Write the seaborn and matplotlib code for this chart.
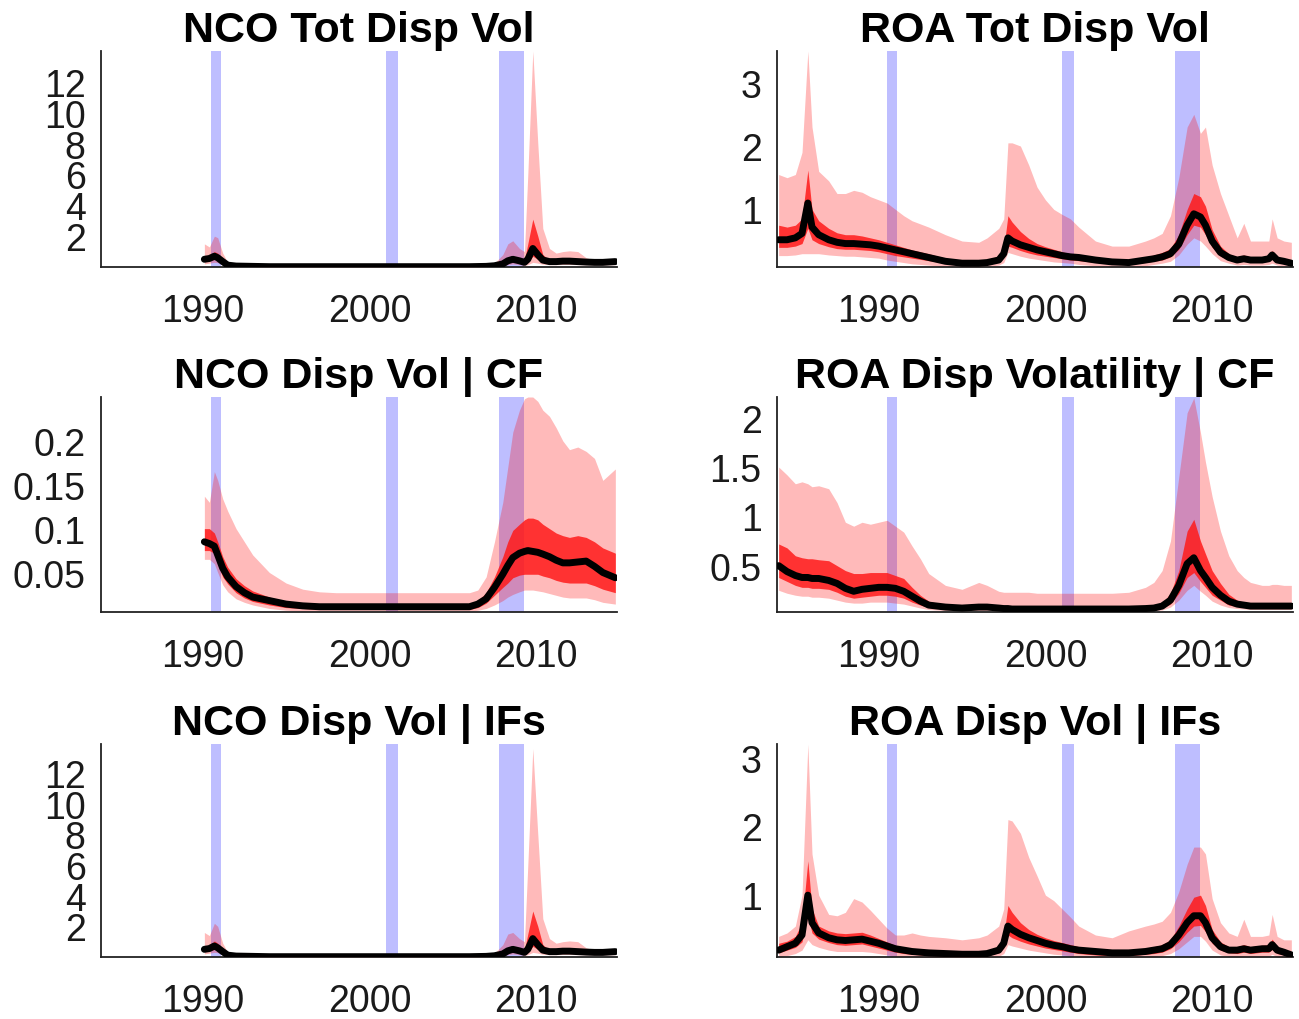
import numpy as np
import pandas as pd
import matplotlib
matplotlib.use("Agg")
import matplotlib.pyplot as plt
import seaborn as sns

# ---------------- data ----------------
TITLES = ["NCO Tot Disp Vol", "ROA Tot Disp Vol",
          "NCO Disp Vol | CF", "ROA Disp Volatility | CF",
          "NCO Disp Vol | IFs", "ROA Disp Vol | IFs"]

X_TICKS = [1990, 2000, 2010]
X_TICK_LABELS = ["1990", "2000", "2010"]

RECESSIONS = [(1990.5, 1991.1), (2001.0, 2001.7), (2007.8, 2009.25)]

NCO_YEARS = [1990.1, 1990.4, 1990.7, 1990.9, 1991.2, 1991.5, 1992.0, 1992.5, 1993.0, 1994.0,
             1995.0, 1996.0, 1997.0, 1998.0, 1999.0, 2000.0, 2001.0, 2002.0, 2003.0, 2004.0,
             2005.0, 2006.0, 2006.5, 2007.0, 2007.5, 2008.0, 2008.3, 2008.6, 2009.0, 2009.3,
             2009.5, 2009.8, 2010.1, 2010.4, 2010.8, 2011.2, 2011.6, 2012.0, 2012.5, 2013.0,
             2013.5, 2014.0, 2014.75]

ROA_YEARS = [1984.0, 1984.5, 1985.0, 1985.4, 1985.75, 1986.0, 1986.4, 1987.0, 1987.5, 1988.0,
             1988.5, 1989.0, 1989.5, 1990.0, 1990.5, 1991.0, 1991.5, 1992.0, 1992.5, 1993.0,
             1994.0, 1995.0, 1996.0, 1996.5, 1997.2, 1997.5, 1997.75, 1998.0, 1998.5, 1999.0,
             1999.5, 2000.0, 2000.5, 2001.0, 2001.5, 2002.0, 2003.0, 2004.0, 2005.0, 2006.0,
             2006.5, 2007.0, 2007.5, 2008.0, 2008.5, 2008.9, 2009.3, 2009.6, 2010.0, 2010.5,
             2011.0, 2011.5, 2011.9, 2012.3, 2013.0, 2013.4, 2013.6, 2013.9, 2014.3, 2014.75]

# Panel 1: NCO Tot Disp Vol
NCO_TOT_MED = [0.5, 0.55, 0.7, 0.6, 0.35, 0.12, 0.06, 0.05, 0.04, 0.02,
               0.02, 0.02, 0.02, 0.02, 0.02, 0.02, 0.02, 0.02, 0.02, 0.02,
               0.02, 0.02, 0.03, 0.04, 0.08, 0.2, 0.4, 0.5, 0.4, 0.3,
               0.5, 1.2, 0.8, 0.45, 0.35, 0.35, 0.38, 0.38, 0.35, 0.32,
               0.3, 0.3, 0.35]
NCO_TOT_IN_LO = [0.35, 0.4, 0.5, 0.45, 0.25, 0.08, 0.04, 0.035, 0.03, 0.012,
                 0.012, 0.012, 0.012, 0.012, 0.012, 0.012, 0.012, 0.012, 0.012, 0.012,
                 0.012, 0.012, 0.02, 0.03, 0.06, 0.14, 0.28, 0.35, 0.28, 0.2,
                 0.3, 0.7, 0.5, 0.32, 0.25, 0.25, 0.28, 0.28, 0.26, 0.24,
                 0.22, 0.22, 0.26]
NCO_TOT_IN_HI = [0.7, 0.7, 1.0, 0.9, 0.5, 0.18, 0.09, 0.07, 0.06, 0.03,
                 0.03, 0.03, 0.03, 0.03, 0.03, 0.03, 0.03, 0.03, 0.03, 0.03,
                 0.03, 0.03, 0.04, 0.06, 0.12, 0.3, 0.6, 0.7, 0.55, 0.45,
                 1.5, 3.1, 2.0, 0.8, 0.45, 0.45, 0.48, 0.48, 0.45, 0.4,
                 0.38, 0.38, 0.42]
NCO_TOT_OUT_LO = [0.2, 0.25, 0.3, 0.28, 0.15, 0.05, 0.02, 0.02, 0.015, 0.005,
                  0.005, 0.005, 0.005, 0.005, 0.005, 0.005, 0.005, 0.005, 0.005, 0.005,
                  0.005, 0.005, 0.01, 0.015, 0.03, 0.07, 0.15, 0.2, 0.15, 0.1,
                  0.15, 0.3, 0.25, 0.18, 0.15, 0.15, 0.16, 0.16, 0.15, 0.14,
                  0.13, 0.13, 0.15]
NCO_TOT_OUT_HI = [1.5, 1.3, 2.0, 1.9, 0.9, 0.3, 0.15, 0.1, 0.08, 0.06,
                  0.06, 0.06, 0.06, 0.06, 0.06, 0.06, 0.06, 0.06, 0.06, 0.06,
                  0.06, 0.06, 0.08, 0.1, 0.25, 0.8, 1.5, 1.7, 1.2, 1.0,
                  6.0, 14.0, 8.0, 2.5, 1.2, 0.9, 1.0, 1.05, 1.0, 0.6,
                  0.45, 0.4, 0.42]

# Panel 3: NCO Disp Vol | CF
NCO_CF_MED = [0.085, 0.083, 0.08, 0.07, 0.055, 0.045, 0.034, 0.027, 0.022, 0.018,
              0.014, 0.012, 0.011, 0.011, 0.011, 0.011, 0.011, 0.011, 0.011, 0.011,
              0.011, 0.011, 0.014, 0.02, 0.033, 0.048, 0.058, 0.067, 0.072, 0.074,
              0.075, 0.074, 0.073, 0.071, 0.068, 0.064, 0.061, 0.061, 0.062, 0.063,
              0.057, 0.05, 0.044]
NCO_CF_IN_LO = [0.075, 0.075, 0.072, 0.06, 0.045, 0.037, 0.027, 0.021, 0.017, 0.013,
                0.01, 0.009, 0.008, 0.008, 0.008, 0.008, 0.008, 0.008, 0.008, 0.008,
                0.008, 0.008, 0.01, 0.015, 0.024, 0.033, 0.038, 0.044, 0.047, 0.048,
                0.048, 0.048, 0.048, 0.046, 0.044, 0.041, 0.039, 0.038, 0.038, 0.038,
                0.035, 0.031, 0.027]
NCO_CF_IN_HI = [0.1, 0.1, 0.095, 0.085, 0.068, 0.056, 0.043, 0.035, 0.029, 0.022,
                0.017, 0.015, 0.014, 0.014, 0.014, 0.014, 0.014, 0.014, 0.014, 0.014,
                0.014, 0.014, 0.018, 0.027, 0.045, 0.068, 0.085, 0.098, 0.105, 0.11,
                0.112, 0.112, 0.11, 0.105, 0.1, 0.095, 0.092, 0.09, 0.092, 0.09,
                0.085, 0.078, 0.072]
NCO_CF_OUT_LO = [0.065, 0.065, 0.06, 0.05, 0.036, 0.028, 0.02, 0.016, 0.013, 0.009,
                 0.007, 0.006, 0.006, 0.006, 0.006, 0.006, 0.006, 0.006, 0.006, 0.006,
                 0.006, 0.006, 0.007, 0.009, 0.013, 0.018, 0.022, 0.025, 0.028, 0.03,
                 0.03, 0.03, 0.029, 0.028, 0.026, 0.024, 0.022, 0.021, 0.021, 0.021,
                 0.019, 0.016, 0.014]
NCO_CF_OUT_HI = [0.137, 0.13, 0.165, 0.155, 0.134, 0.12, 0.1, 0.085, 0.07, 0.05,
                 0.038, 0.031, 0.028, 0.027, 0.027, 0.027, 0.027, 0.027, 0.027, 0.027,
                 0.027, 0.027, 0.03, 0.045, 0.085, 0.13, 0.17, 0.21, 0.235, 0.248,
                 0.25, 0.25, 0.245, 0.235, 0.228, 0.215, 0.2, 0.19, 0.193, 0.188,
                 0.18, 0.155, 0.168]

# Panel 5: NCO Disp Vol | IFs
NCO_IF_MED = [0.5, 0.55, 0.72, 0.6, 0.35, 0.12, 0.06, 0.05, 0.04, 0.02,
              0.02, 0.02, 0.02, 0.02, 0.02, 0.02, 0.02, 0.02, 0.02, 0.02,
              0.02, 0.02, 0.03, 0.04, 0.08, 0.2, 0.4, 0.5, 0.4, 0.3,
              0.5, 1.2, 0.8, 0.45, 0.35, 0.35, 0.38, 0.38, 0.35, 0.32,
              0.3, 0.3, 0.35]
NCO_IF_IN_LO = [0.35, 0.4, 0.5, 0.45, 0.25, 0.08, 0.04, 0.035, 0.03, 0.012,
                0.012, 0.012, 0.012, 0.012, 0.012, 0.012, 0.012, 0.012, 0.012, 0.012,
                0.012, 0.012, 0.02, 0.03, 0.06, 0.14, 0.28, 0.35, 0.28, 0.2,
                0.3, 0.7, 0.5, 0.32, 0.25, 0.25, 0.28, 0.28, 0.26, 0.24,
                0.22, 0.22, 0.26]
NCO_IF_IN_HI = [0.7, 0.75, 1.05, 0.9, 0.5, 0.18, 0.09, 0.07, 0.06, 0.03,
                0.03, 0.03, 0.03, 0.03, 0.03, 0.03, 0.03, 0.03, 0.03, 0.03,
                0.03, 0.03, 0.04, 0.06, 0.12, 0.3, 0.6, 0.7, 0.55, 0.45,
                1.5, 3.0, 2.0, 0.8, 0.45, 0.45, 0.48, 0.48, 0.45, 0.4,
                0.38, 0.38, 0.42]
NCO_IF_OUT_LO = [0.2, 0.25, 0.3, 0.28, 0.15, 0.05, 0.02, 0.02, 0.015, 0.005,
                 0.005, 0.005, 0.005, 0.005, 0.005, 0.005, 0.005, 0.005, 0.005, 0.005,
                 0.005, 0.005, 0.01, 0.015, 0.03, 0.07, 0.15, 0.2, 0.15, 0.1,
                 0.15, 0.3, 0.25, 0.18, 0.15, 0.15, 0.16, 0.16, 0.15, 0.14,
                 0.13, 0.13, 0.15]
NCO_IF_OUT_HI = [1.6, 1.4, 2.2, 2.0, 0.9, 0.3, 0.15, 0.1, 0.08, 0.06,
                 0.06, 0.06, 0.06, 0.06, 0.06, 0.06, 0.06, 0.06, 0.06, 0.06,
                 0.06, 0.06, 0.08, 0.1, 0.25, 0.8, 1.5, 1.6, 1.2, 1.0,
                 6.0, 13.6, 8.0, 2.5, 1.2, 0.9, 1.0, 1.05, 1.0, 0.6,
                 0.45, 0.4, 0.42]

# Panel 2: ROA Tot Disp Vol
ROA_TOT_MED = [0.52, 0.52, 0.55, 0.62, 1.1, 0.72, 0.6, 0.52, 0.48, 0.46,
               0.46, 0.45, 0.44, 0.42, 0.39, 0.36, 0.33, 0.3, 0.27, 0.24,
               0.18, 0.15, 0.15, 0.16, 0.2, 0.3, 0.55, 0.5, 0.44, 0.4,
               0.36, 0.33, 0.3, 0.27, 0.25, 0.24, 0.2, 0.17, 0.16, 0.2,
               0.22, 0.25, 0.3, 0.45, 0.75, 0.93, 0.88, 0.75, 0.5, 0.32,
               0.24, 0.2, 0.22, 0.2, 0.2, 0.22, 0.28, 0.2, 0.18, 0.15]
ROA_TOT_IN_LO = [0.4, 0.4, 0.42, 0.46, 0.7, 0.52, 0.46, 0.41, 0.38, 0.37,
                 0.37, 0.36, 0.35, 0.33, 0.3, 0.27, 0.25, 0.23, 0.21, 0.19,
                 0.15, 0.12, 0.12, 0.13, 0.17, 0.24, 0.42, 0.4, 0.35, 0.31,
                 0.28, 0.26, 0.24, 0.22, 0.2, 0.19, 0.16, 0.14, 0.13, 0.16,
                 0.18, 0.2, 0.25, 0.37, 0.6, 0.75, 0.72, 0.6, 0.4, 0.26,
                 0.2, 0.17, 0.18, 0.17, 0.17, 0.18, 0.23, 0.17, 0.15, 0.13]
ROA_TOT_IN_HI = [0.75, 0.72, 0.75, 0.85, 1.62, 1.0, 0.82, 0.7, 0.63, 0.6,
                 0.6, 0.58, 0.55, 0.52, 0.48, 0.44, 0.4, 0.36, 0.33, 0.3,
                 0.23, 0.19, 0.19, 0.21, 0.26, 0.38, 0.9, 0.8, 0.65, 0.54,
                 0.46, 0.41, 0.37, 0.33, 0.3, 0.29, 0.24, 0.21, 0.2, 0.25,
                 0.28, 0.32, 0.38, 0.6, 1.0, 1.25, 1.2, 1.05, 0.68, 0.42,
                 0.3, 0.25, 0.28, 0.25, 0.25, 0.27, 0.35, 0.25, 0.22, 0.19]
ROA_TOT_OUT_LO = [0.27, 0.27, 0.28, 0.3, 0.3, 0.3, 0.3, 0.28, 0.27, 0.26,
                  0.26, 0.25, 0.24, 0.23, 0.2, 0.18, 0.16, 0.14, 0.13, 0.12,
                  0.1, 0.09, 0.09, 0.1, 0.12, 0.16, 0.32, 0.3, 0.26, 0.23,
                  0.21, 0.19, 0.17, 0.16, 0.15, 0.13, 0.11, 0.09, 0.09, 0.11,
                  0.13, 0.15, 0.18, 0.28, 0.45, 0.55, 0.5, 0.42, 0.3, 0.19,
                  0.15, 0.12, 0.13, 0.12, 0.12, 0.13, 0.15, 0.12, 0.11, 0.1]
ROA_TOT_OUT_HI = [1.55, 1.5, 1.55, 1.9, 3.5, 2.3, 1.6, 1.45, 1.25, 1.25,
                  1.3, 1.27, 1.2, 1.15, 1.1, 1.0, 0.9, 0.82, 0.77, 0.72,
                  0.6, 0.5, 0.48, 0.55, 0.7, 0.85, 2.05, 2.05, 2.0, 1.7,
                  1.35, 1.15, 1.0, 0.92, 0.85, 0.72, 0.5, 0.42, 0.42, 0.5,
                  0.55, 0.62, 0.9, 1.5, 2.3, 2.5, 2.2, 2.3, 1.7, 1.25,
                  0.9, 0.55, 0.78, 0.5, 0.5, 0.5, 0.85, 0.55, 0.5, 0.48]

# Panel 4: ROA Disp Volatility | CF
ROA_CF_MED = [0.5, 0.44, 0.4, 0.38, 0.38, 0.37, 0.37, 0.35, 0.32, 0.27,
              0.24, 0.26, 0.27, 0.28, 0.28, 0.27, 0.24, 0.19, 0.14, 0.1,
              0.08, 0.07, 0.08, 0.08, 0.07, 0.065, 0.065, 0.06, 0.06, 0.06,
              0.06, 0.06, 0.06, 0.06, 0.06, 0.06, 0.06, 0.06, 0.06, 0.065,
              0.07, 0.09, 0.15, 0.3, 0.52, 0.58, 0.45, 0.38, 0.28, 0.2,
              0.14, 0.11, 0.1, 0.09, 0.09, 0.09, 0.09, 0.09, 0.09, 0.09]
ROA_CF_IN_LO = [0.38, 0.34, 0.3, 0.28, 0.28, 0.27, 0.27, 0.26, 0.23, 0.19,
                0.17, 0.18, 0.19, 0.2, 0.2, 0.19, 0.17, 0.13, 0.1, 0.075,
                0.06, 0.055, 0.06, 0.06, 0.055, 0.05, 0.05, 0.05, 0.05, 0.05,
                0.05, 0.05, 0.05, 0.05, 0.05, 0.05, 0.05, 0.05, 0.05, 0.05,
                0.055, 0.07, 0.11, 0.22, 0.38, 0.43, 0.34, 0.28, 0.2, 0.15,
                0.1, 0.085, 0.08, 0.07, 0.07, 0.07, 0.07, 0.07, 0.07, 0.07]
ROA_CF_IN_HI = [0.72, 0.68, 0.6, 0.58, 0.57, 0.57, 0.56, 0.55, 0.5, 0.45,
                0.42, 0.42, 0.43, 0.43, 0.43, 0.4, 0.37, 0.28, 0.2, 0.14,
                0.1, 0.09, 0.1, 0.1, 0.09, 0.08, 0.08, 0.08, 0.08, 0.08,
                0.08, 0.08, 0.08, 0.08, 0.08, 0.08, 0.08, 0.08, 0.08, 0.085,
                0.09, 0.12, 0.22, 0.45, 0.85, 0.97, 0.75, 0.62, 0.45, 0.32,
                0.21, 0.15, 0.13, 0.12, 0.11, 0.11, 0.11, 0.11, 0.11, 0.11]
ROA_CF_OUT_LO = [0.25, 0.22, 0.2, 0.19, 0.19, 0.18, 0.18, 0.17, 0.15, 0.13,
                 0.12, 0.12, 0.13, 0.13, 0.13, 0.12, 0.11, 0.09, 0.07, 0.055,
                 0.045, 0.04, 0.045, 0.045, 0.04, 0.04, 0.04, 0.04, 0.04, 0.04,
                 0.04, 0.04, 0.04, 0.04, 0.04, 0.04, 0.04, 0.04, 0.04, 0.04,
                 0.045, 0.05, 0.08, 0.15, 0.25, 0.3, 0.24, 0.2, 0.14, 0.1,
                 0.075, 0.065, 0.06, 0.055, 0.055, 0.055, 0.055, 0.055, 0.055, 0.055]
ROA_CF_OUT_HI = [1.5, 1.42, 1.33, 1.35, 1.33, 1.3, 1.31, 1.28, 1.14, 0.94,
                 0.9, 0.94, 0.92, 0.94, 0.96, 0.9, 0.84, 0.7, 0.57, 0.42,
                 0.3, 0.26, 0.33, 0.3, 0.24, 0.23, 0.23, 0.23, 0.23, 0.23,
                 0.22, 0.22, 0.22, 0.22, 0.22, 0.22, 0.22, 0.22, 0.23, 0.28,
                 0.33, 0.45, 0.75, 1.4, 2.05, 2.2, 1.85, 1.55, 1.2, 0.85,
                 0.6, 0.45, 0.38, 0.33, 0.3, 0.3, 0.31, 0.31, 0.3, 0.3]

# Panel 6: ROA Disp Vol | IFs
ROA_IF_MED = [0.2, 0.25, 0.3, 0.42, 1.0, 0.6, 0.45, 0.38, 0.35, 0.34,
              0.35, 0.36, 0.33, 0.3, 0.26, 0.22, 0.2, 0.18, 0.17, 0.16,
              0.15, 0.14, 0.14, 0.15, 0.2, 0.3, 0.55, 0.5, 0.43, 0.38,
              0.34, 0.3, 0.27, 0.25, 0.22, 0.2, 0.18, 0.16, 0.16, 0.18,
              0.2, 0.22, 0.28, 0.42, 0.6, 0.7, 0.7, 0.6, 0.38, 0.25,
              0.2, 0.2, 0.22, 0.2, 0.22, 0.22, 0.28, 0.2, 0.17, 0.13]
ROA_IF_IN_LO = [0.16, 0.2, 0.24, 0.32, 0.7, 0.45, 0.36, 0.31, 0.28, 0.27,
                0.28, 0.29, 0.26, 0.23, 0.2, 0.17, 0.15, 0.14, 0.13, 0.12,
                0.11, 0.1, 0.1, 0.12, 0.16, 0.23, 0.42, 0.38, 0.33, 0.29,
                0.26, 0.23, 0.21, 0.19, 0.17, 0.15, 0.13, 0.12, 0.12, 0.14,
                0.15, 0.17, 0.22, 0.32, 0.46, 0.55, 0.56, 0.47, 0.3, 0.2,
                0.16, 0.15, 0.17, 0.15, 0.17, 0.17, 0.21, 0.15, 0.13, 0.1]
ROA_IF_IN_HI = [0.3, 0.33, 0.4, 0.6, 1.5, 0.8, 0.55, 0.48, 0.45, 0.44,
                0.45, 0.46, 0.42, 0.37, 0.32, 0.27, 0.24, 0.22, 0.21, 0.2,
                0.19, 0.17, 0.17, 0.19, 0.26, 0.4, 0.85, 0.75, 0.6, 0.5,
                0.43, 0.38, 0.34, 0.31, 0.28, 0.25, 0.22, 0.2, 0.2, 0.23,
                0.25, 0.28, 0.35, 0.55, 0.8, 0.97, 1.0, 0.85, 0.5, 0.32,
                0.25, 0.25, 0.28, 0.25, 0.27, 0.28, 0.36, 0.25, 0.22, 0.17]
ROA_IF_OUT_LO = [0.1, 0.12, 0.15, 0.2, 0.35, 0.28, 0.24, 0.2, 0.18, 0.18,
                 0.18, 0.18, 0.17, 0.15, 0.13, 0.11, 0.1, 0.1, 0.09, 0.09,
                 0.08, 0.07, 0.07, 0.08, 0.11, 0.15, 0.28, 0.26, 0.23, 0.2,
                 0.18, 0.16, 0.14, 0.13, 0.12, 0.1, 0.08, 0.07, 0.07, 0.1,
                 0.1, 0.12, 0.15, 0.22, 0.32, 0.4, 0.4, 0.33, 0.2, 0.13,
                 0.11, 0.1, 0.1, 0.1, 0.1, 0.11, 0.14, 0.1, 0.09, 0.07]
ROA_IF_OUT_HI = [0.4, 0.45, 0.55, 1.0, 3.2, 1.6, 1.0, 0.72, 0.7, 0.75,
                 0.95, 0.9, 0.78, 0.65, 0.52, 0.42, 0.42, 0.45, 0.42, 0.4,
                 0.38, 0.35, 0.38, 0.42, 0.55, 0.8, 2.1, 2.08, 1.9, 1.55,
                 1.28, 1.0, 0.92, 0.8, 0.68, 0.55, 0.42, 0.38, 0.48, 0.55,
                 0.58, 0.62, 0.75, 1.05, 1.45, 1.7, 1.7, 1.6, 0.95, 0.6,
                 0.45, 0.4, 0.65, 0.4, 0.4, 0.42, 0.72, 0.4, 0.35, 0.35]

Y_TICKS = [[2, 4, 6, 8, 10, 12], [1, 2, 3],
           [0.05, 0.1, 0.15, 0.2], [0.5, 1, 1.5, 2],
           [2, 4, 6, 8, 10, 12], [1, 2, 3]]
Y_TICK_LABELS = [["2", "4", "6", "8", "10", "12"], ["1", "2", "3"],
                 ["0.05", "0.1", "0.15", "0.2"], ["0.5", "1", "1.5", "2"],
                 ["2", "4", "6", "8", "10", "12"], ["1", "2", "3"]]
Y_LIMS = [(0, 14.0), (0.09, 3.5), (0.005, 0.25), (0.03, 2.21), (0, 13.9), (0.1, 3.2)]
X_LIM = (1983.9, 2014.85)

PANELS = [
    (NCO_YEARS, NCO_TOT_MED, NCO_TOT_IN_LO, NCO_TOT_IN_HI, NCO_TOT_OUT_LO, NCO_TOT_OUT_HI),
    (ROA_YEARS, ROA_TOT_MED, ROA_TOT_IN_LO, ROA_TOT_IN_HI, ROA_TOT_OUT_LO, ROA_TOT_OUT_HI),
    (NCO_YEARS, NCO_CF_MED, NCO_CF_IN_LO, NCO_CF_IN_HI, NCO_CF_OUT_LO, NCO_CF_OUT_HI),
    (ROA_YEARS, ROA_CF_MED, ROA_CF_IN_LO, ROA_CF_IN_HI, ROA_CF_OUT_LO, ROA_CF_OUT_HI),
    (NCO_YEARS, NCO_IF_MED, NCO_IF_IN_LO, NCO_IF_IN_HI, NCO_IF_OUT_LO, NCO_IF_OUT_HI),
    (ROA_YEARS, ROA_IF_MED, ROA_IF_IN_LO, ROA_IF_IN_HI, ROA_IF_OUT_LO, ROA_IF_OUT_HI),
]

# ---------------- style ----------------
sns.set_theme(style="white")
plt.rcParams["font.family"] = ["Liberation Sans", "DejaVu Sans"]

fig = plt.figure(figsize=(12.99, 10.2), dpi=100)

W, H = 1299.0, 1020.0
col_left = [101, 777]
col_width = 516
row_top = [52, 398, 745]
row_bottom = [268, 613, 958]

for i, (title, panel) in enumerate(zip(TITLES, PANELS)):
    r, c = divmod(i, 2)
    ax = fig.add_axes([col_left[c] / W, 1 - row_bottom[r] / H,
                       col_width / W, (row_bottom[r] - row_top[r]) / H])
    yrs, med, ilo, ihi, olo, ohi = panel
    df = pd.DataFrame({"year": yrs, "median": med, "in_lo": ilo, "in_hi": ihi,
                       "out_lo": olo, "out_hi": ohi})
    for a, b in RECESSIONS:
        ax.axvspan(a, b, color="#7070ff", alpha=0.45, lw=0, zorder=0)
    ax.fill_between(df["year"], df["out_lo"], df["out_hi"], color="#ff0000",
                    alpha=0.27, lw=0, zorder=1)
    ax.fill_between(df["year"], df["in_lo"], df["in_hi"], color="#ff1a1a",
                    alpha=0.85, lw=0, zorder=2)
    sns.lineplot(data=df, x="year", y="median", ax=ax, color="black", lw=5,
                 zorder=3, legend=False)
    ax.set_xlim(*X_LIM)
    ax.set_ylim(*Y_LIMS[i])
    ax.set_xticks(X_TICKS)
    ax.set_xticklabels(X_TICK_LABELS)
    ax.set_yticks(Y_TICKS[i])
    ax.set_yticklabels(Y_TICK_LABELS[i])
    ax.set_xlabel("")
    ax.set_ylabel("")
    ax.set_title(title, fontsize=31, fontweight="bold", pad=7, color="black")
    for s in ["top", "right"]:
        ax.spines[s].set_visible(False)
    for s in ["left", "bottom"]:
        ax.spines[s].set_color("#222222")
        ax.spines[s].set_linewidth(1.3)
    ax.tick_params(axis="x", direction="in", length=4, width=1, pad=19,
                   labelsize=27, colors="#222222", labelcolor="#1a1a1a")
    ax.tick_params(axis="y", direction="in", length=4, width=1, pad=11,
                   labelsize=27, colors="#222222", labelcolor="#1a1a1a")
    ax.set_facecolor("white")

fig.savefig("out.png", dpi=100, facecolor="white")
